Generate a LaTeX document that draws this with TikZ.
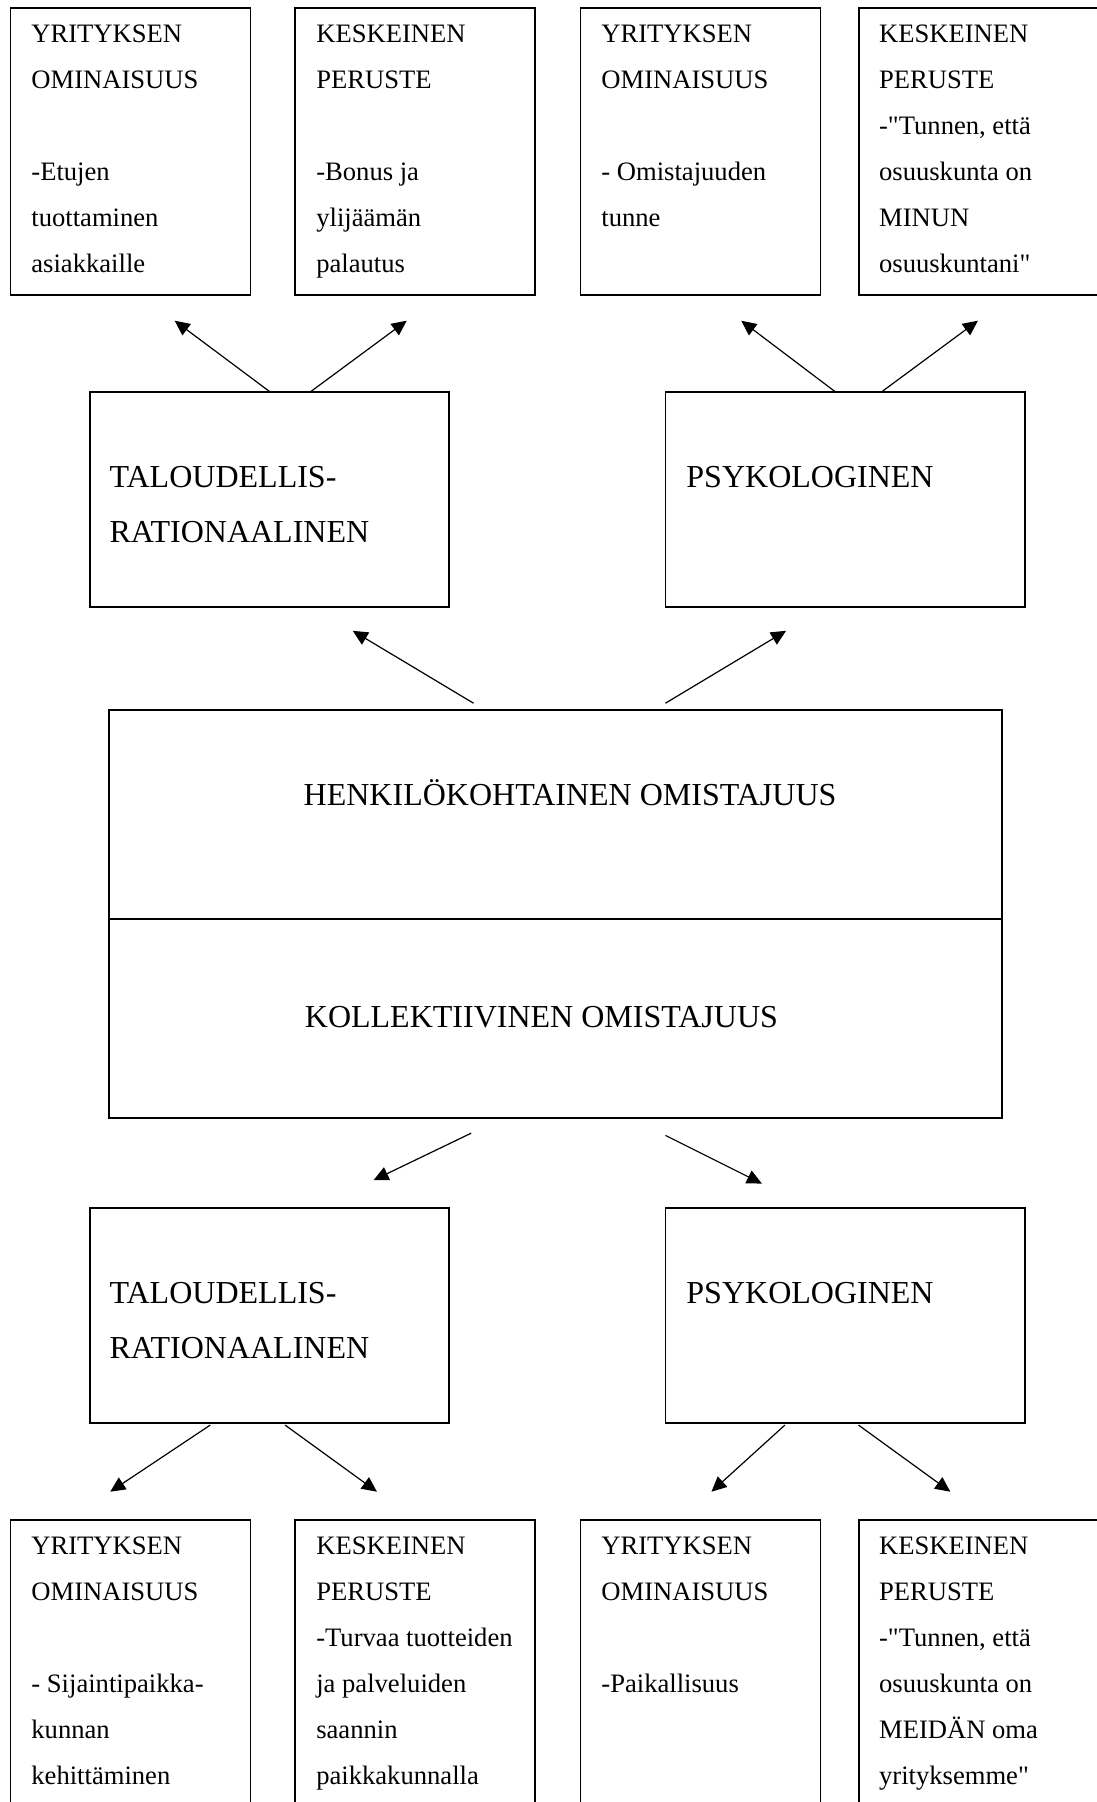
\documentclass[tikz,border=0pt]{standalone}
\usepackage{fontspec}
\setmainfont{Liberation Serif}[Ligatures=TeXOff]
\usetikzlibrary{calc}
\usetikzlibrary{arrows.meta}

\begin{document}
\begin{tikzpicture}[x=1pt,y=1pt,
  box/.style={draw,line width=0.9pt,inner sep=0pt,outer sep=0pt,anchor=north west},
  small/.style={box,minimum width=120pt,minimum height=143.6pt},
  mid/.style={box,minimum width=179.8pt,minimum height=107.4pt},
  stxt/.style={inner sep=0pt,anchor=north west,align=left,font=\fontsize{13.3}{23}\selectfont},
  btxt/.style={inner sep=0pt,anchor=north west,align=left,font=\fontsize{16}{27.5}\selectfont},
  arr/.style={line width=0.6pt,-{Triangle[length=7.5pt,width=7pt]}}]
\useasboundingbox (0,0) rectangle (548,-900.7);

% ylärivi
\node[small] (omA) at (5.2,-4) {} node[stxt] (omA-t) at ($(omA.north west)+(10.3,-8.2)$) {YRITYKSEN\\OMINAISUUS\\ \\-Etujen\\tuottaminen\\asiakkaille};
\node[small] (perA) at (147.6,-4) {} node[stxt] (perA-t) at ($(perA.north west)+(10.3,-8.2)$) {KESKEINEN\\PERUSTE\\ \\-Bonus ja\\ylijäämän\\palautus};
\node[small] (omB) at (290.1,-4) {} node[stxt] (omB-t) at ($(omB.north west)+(10.3,-8.2)$) {YRITYKSEN\\OMINAISUUS\\ \\- Omistajuuden\\tunne};
\node[small] (perB) at (429.2,-4) {} node[stxt] (perB-t) at ($(perB.north west)+(10,-8.2)$) {KESKEINEN\\PERUSTE\\-"Tunnen, että\\osuuskunta on\\MINUN\\osuuskuntani"};

\node[mid] (talA) at (44.8,-195.9) {} node[btxt] (talA-t) at ($(talA.north west)+(9.8,-37.2)$) {TALOUDELLIS-\\RATIONAALINEN};
\node[mid] (psyA) at (332.6,-195.9) {} node[btxt] (psyA-t) at ($(psyA.north west)+(10.3,-37.2)$) {PSYKOLOGINEN};

% keskilaatikko
\node[box,minimum width=446.3pt,minimum height=104.5pt] (henk) at (54.6,-355) {} node[btxt,anchor=base west] (henk-t) at ($(henk.north west)+(97,-47.8)$) {HENKILÖKOHTAINEN OMISTAJUUS};
\node[box,minimum width=446.3pt,minimum height=99.4pt] (koll) at (henk.south west) {} node[btxt,anchor=base west] (koll-t) at ($(koll.north west)+(97.6,-54.1)$) {KOLLEKTIIVINEN OMISTAJUUS};

\node[mid] (talB) at (44.8,-603.7) {} node[btxt] (talB-t) at ($(talB.north west)+(9.8,-37.2)$) {TALOUDELLIS-\\RATIONAALINEN};
\node[mid] (psyB) at (332.6,-603.7) {} node[btxt] (psyB-t) at ($(psyB.north west)+(10.3,-37.2)$) {PSYKOLOGINEN};

% alarivi
\node[small] (omC) at (5.2,-759.9) {} node[stxt] (omC-t) at ($(omC.north west)+(10.3,-8.2)$) {YRITYKSEN\\OMINAISUUS\\ \\- Sijaintipaikka-\\kunnan\\kehittäminen};
\node[small] (perC) at (147.6,-759.9) {} node[stxt] (perC-t) at ($(perC.north west)+(10.3,-8.2)$) {KESKEINEN\\PERUSTE\\-Turvaa tuotteiden\\ja palveluiden\\saannin\\paikkakunnalla};
\node[small] (omD) at (290.1,-759.9) {} node[stxt] (omD-t) at ($(omD.north west)+(10.3,-8.2)$) {YRITYKSEN\\OMINAISUUS\\ \\-Paikallisuus};
\node[small] (perD) at (429.2,-759.9) {} node[stxt] (perD-t) at ($(perD.north west)+(10,-8.2)$) {KESKEINEN\\PERUSTE\\-"Tunnen, että\\osuuskunta on\\MEIDÄN oma\\yrityksemme"};

% nuolten vapaat päät
\coordinate (omA-in) at ($(omA.south west)+(82.1,-12.7)$);
\coordinate (perA-in) at ($(perA.south west)+(55.7,-12.7)$);
\coordinate (omB-in) at ($(omB.south west)+(80.4,-12.7)$);
\coordinate (perB-in) at ($(perB.south west)+(59.6,-12.7)$);
\coordinate (talA-in) at ($(talA.south west)+(131.5,-12)$);
\coordinate (psyA-in) at ($(psyA.south west)+(60.3,-12)$);
\coordinate (talB-in) at ($(talB.north west)+(141.9,13.8)$);
\coordinate (psyB-in) at ($(psyB.north west)+(48.2,12.1)$);
\coordinate (omC-in) at ($(omC.north west)+(49.9,14.3)$);
\coordinate (perC-in) at ($(perC.north west)+(40.8,14.3)$);
\coordinate (omD-in) at ($(omD.north west)+(65.5,14.3)$);
\coordinate (perD-in) at ($(perD.north west)+(45.8,14.3)$);

\draw[arr] ($(talA.north west)+(90.2,0)$) -- (omA-in);
\draw[arr] ($(talA.north west)+(110.3,0)$) -- (perA-in);
\draw[arr] ($(psyA.north west)+(85,0)$) -- (omB-in);
\draw[arr] ($(psyA.north west)+(108,0)$) -- (perB-in);
\draw[arr] ($(henk.north west)+(182.1,3.5)$) -- (talA-in);
\draw[arr] ($(henk.north west)+(278,3.5)$) -- (psyA-in);
\draw[arr] ($(koll.south west)+(180.9,-7.5)$) -- (talB-in);
\draw[arr] ($(koll.south west)+(278,-8.6)$) -- (psyB-in);
\draw[arr] ($(talB.south west)+(60.3,-1.2)$) -- (omC-in);
\draw[arr] ($(talB.south west)+(97.7,-1.2)$) -- (perC-in);
\draw[arr] ($(psyB.south west)+(59.7,-1.2)$) -- (omD-in);
\draw[arr] ($(psyB.south west)+(96.5,-1.2)$) -- (perD-in);
\end{tikzpicture}
\end{document}
